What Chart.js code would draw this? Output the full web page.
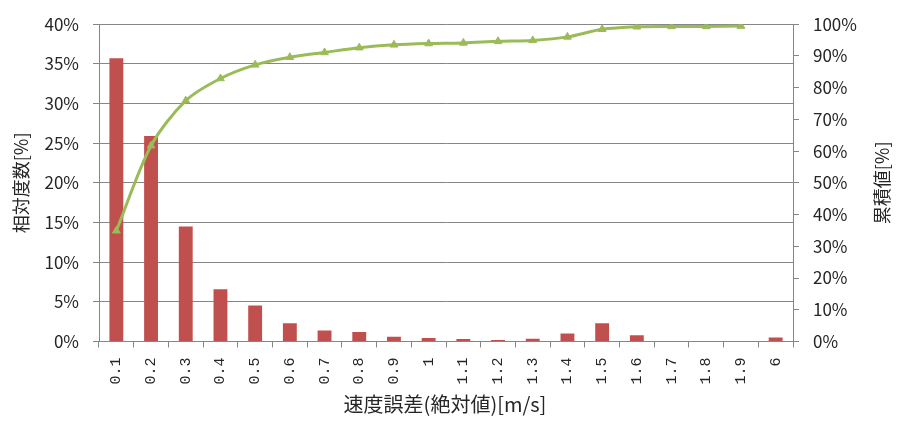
<!DOCTYPE html>
<html lang="ja">
<head>
<meta charset="utf-8">
<title>速度誤差の度数分布</title>
<script src="https://cdn.jsdelivr.net/npm/chart.js@4/dist/chart.umd.min.js"></script>
<style>
  html, body { margin: 0; padding: 0; background: #fff; }
  #wrap { width: 900px; height: 423px; position: relative; }
</style>
</head>
<body>
<div id="wrap"><canvas id="c" width="900" height="423"></canvas></div>
<script>
// 速度誤差の区分 [m/s]
const categories = ['0.1','0.2','0.3','0.4','0.5','0.6','0.7','0.8','0.9','1',
                    '1.1','1.2','1.3','1.4','1.5','1.6','1.7','1.8','1.9','6'];
// 相対度数 [%]
const relativeFreq = [35.7, 25.9, 14.5, 6.6, 4.55, 2.3, 1.4, 1.2, 0.6, 0.45,
                      0.3, 0.2, 0.35, 1.0, 2.3, 0.8, 0, 0, 0, 0.5];
// 累積値 [%]
const cumulative = [34.9, 61.7, 75.9, 82.9, 87.2, 89.6, 91.1, 92.6, 93.5, 93.9,
                    94.1, 94.6, 94.9, 96.0, 98.4, 99.2, 99.3, 99.3, 99.4, null];

const leftTitle = '相対度数[%]';
const rightTitle = '累積値[%]';
const bottomTitle = '速度誤差(絶対値)[m/s]';

const GRID = '#868686';
const TEXT = '#262626';
const JP = '"Noto Sans CJK JP", "Noto Sans", sans-serif';

// axis titles: both vertical titles read bottom-to-top
const axisTitles = {
  id: 'axisTitles',
  afterDraw(chart) {
    const { ctx, chartArea: a } = chart;
    const midY = (a.top + a.bottom) / 2;
    ctx.save();
    ctx.fillStyle = TEXT;
    ctx.textAlign = 'center';
    ctx.textBaseline = 'middle';
    ctx.font = '18px ' + JP;
    // left
    ctx.save();
    ctx.translate(21, midY);
    ctx.rotate(-Math.PI / 2);
    ctx.fillText(leftTitle, 0, 0);
    ctx.restore();
    // right
    ctx.save();
    ctx.translate(882, midY);
    ctx.rotate(-Math.PI / 2);
    ctx.fillText(rightTitle, 0, 0);
    ctx.restore();
    // bottom
    ctx.font = '20px ' + JP;
    ctx.fillText(bottomTitle, (a.left + a.right) / 2 - 1, 404);
    ctx.restore();
  }
};

new Chart(document.getElementById('c'), {
  data: {
    labels: categories,
    datasets: [
      {
        type: 'line',
        label: rightTitle,
        data: cumulative,
        yAxisID: 'yR',
        borderColor: '#9BBB59',
        backgroundColor: '#9BBB59',
        borderWidth: 3,
        tension: 0.3,
        pointStyle: 'triangle',
        pointRadius: 4.5,
        pointBorderWidth: 1,
        order: 0
      },
      {
        type: 'bar',
        label: leftTitle,
        data: relativeFreq,
        yAxisID: 'yL',
        backgroundColor: '#C0504D',
        borderWidth: 0,
        categoryPercentage: 1,
        barPercentage: 0.4,
        order: 1
      }
    ]
  },
  options: {
    responsive: false,
    animation: false,
    devicePixelRatio: 1,
    layout: { padding: { top: 20, left: 0, right: 0, bottom: 0 } },
    plugins: { legend: { display: false }, tooltip: { enabled: false } },
    scales: {
      x: {
        offset: true,
        grid: { offset: true, drawOnChartArea: false, color: GRID, tickLength: 6 },
        border: { color: GRID },
        ticks: {
          minRotation: 90, maxRotation: 90, padding: 10, autoSkip: false,
          color: TEXT, font: { family: '"Liberation Mono", monospace', size: 15 }
        },
        afterFit(s) { s.height = 81.5; }
      },
      yL: {
        position: 'left',
        min: 0, max: 40,
        grid: { color: GRID, tickLength: 6 },
        border: { color: GRID },
        ticks: {
          stepSize: 5, padding: 14, color: TEXT,
          font: { family: JP, size: 17 },
          callback: v => v + '%'
        },
        afterFit(s) { s.width = 99; }
      },
      yR: {
        position: 'right',
        min: 0, max: 100,
        grid: { drawOnChartArea: false, color: GRID, tickLength: 6 },
        border: { color: GRID },
        ticks: {
          stepSize: 10, padding: 14, color: TEXT,
          font: { family: JP, size: 17 },
          callback: v => v + '%'
        },
        afterFit(s) { s.width = 107; }
      }
    }
  },
  plugins: [axisTitles]
});
</script>
</body>
</html>
